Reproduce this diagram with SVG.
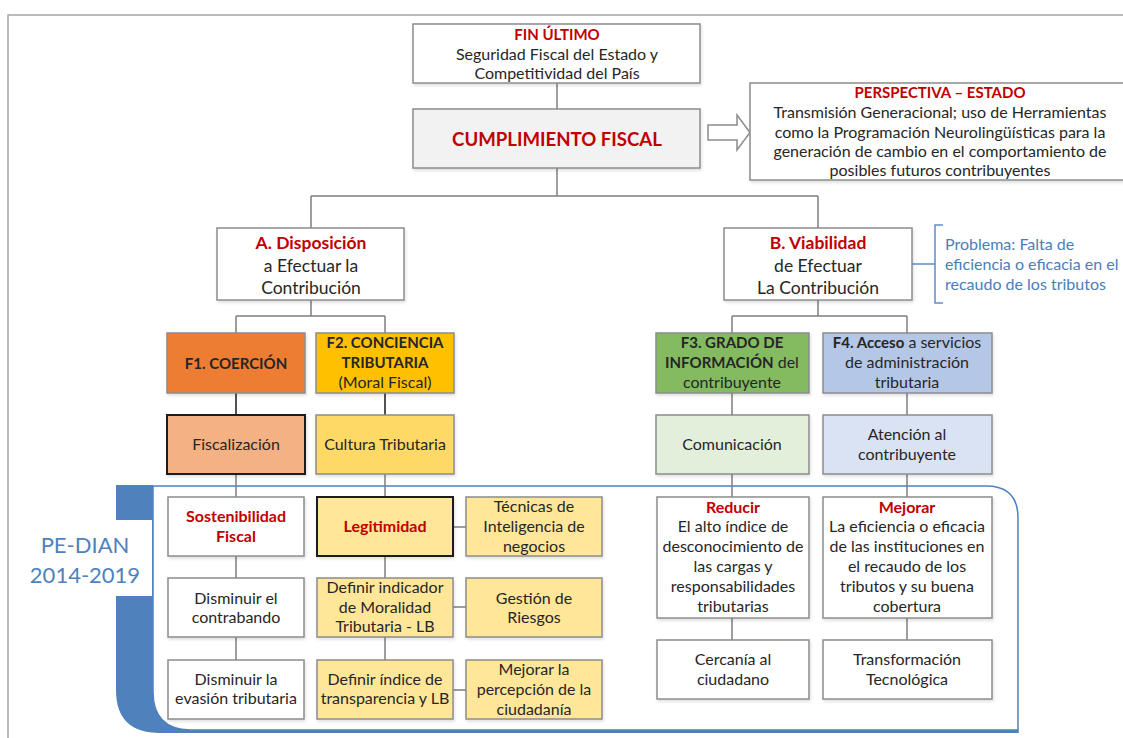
<svg xmlns="http://www.w3.org/2000/svg" width="1123" height="738" viewBox="0 0 1123 738">
  <defs>
    <style>
      text { font-family: Lato, "Open Sans", "Liberation Sans", sans-serif; font-size: 16px; fill: #262626; text-anchor: middle; }
      .red { fill: #c00000; font-weight: bold; }
      .b { font-weight: bold; font-size: 15px; }
      .blue { fill: #4a7ebb; text-anchor: start; }
      .ab { font-size: 17.5px; }
      .box { fill: #ffffff; stroke: #8c8c8c; stroke-width: 1.5; }
      .dark { stroke: #1a1a1a; stroke-width: 2; }
      .con { fill: none; stroke: #7f7f7f; stroke-width: 1.5; }
      .conk { fill: none; stroke: #1a1a1a; stroke-width: 1.5; }
    </style>
    <filter id="sh" x="-10%" y="-10%" width="120%" height="130%">
      <feDropShadow dx="1" dy="2" stdDeviation="1.5" flood-color="#000" flood-opacity="0.12"/>
    </filter>
  </defs>

  <rect width="1123" height="738" fill="#ffffff"/>
  <!-- outer frame -->
  <path d="M1130,15 H8 V745" fill="none" stroke="#a6a6a6" stroke-width="1.5"/>

  <!-- PE-DIAN panel -->
  <g id="pe-dian">
    <path d="M116,485 H153 V692 Q153,729 190,730 H1018 V733 H160 Q116,733 116,690 Z" fill="#4f81bd"/>
    <rect x="115" y="520" width="37" height="76" fill="#ffffff"/>
    <path d="M153,486 H986 Q1018,486 1018,518 V733 M153,486 V692 Q153,729 190,730 H1018" fill="none" stroke="#4f81bd" stroke-width="1.5"/>
    <text x="85" y="553" style="font-size:22px; fill:#4f81bd">PE-DIAN</text>
    <text x="85" y="583" style="font-size:22px; fill:#4f81bd">2014-2019</text>
  </g>

  <!-- connectors -->
  <g id="connectors">
    <path class="con" d="M557,83 V109 M557,168 V196 M311,196 H818 M311,196 V228 M818,196 V228"/>
    <path class="con" d="M311,300 V316 M236,316 H385 M236,316 V333 M385,316 V333"/>
    <path class="con" d="M818,300 V316 M732,316 H907 M732,316 V333 M907,316 V333"/>
    <path class="conk" d="M236,393 V415 M385,393 V415"/>
    <path class="con" d="M732,393 V415 M907,393 V415"/>
    <path class="con" d="M236,474 V497 M236,556 V578 M236,637 V660"/>
    <path class="con" d="M385,474 V497 M385,556 V578 M385,637 V660"/>
    <path class="con" d="M453,527 H466 M453,607 H466 M453,690 H466"/>
    <path class="con" d="M732,474 V497 M732,618 V640 M907,474 V497 M907,618 V640"/>
    <!-- bracket for the problem note -->
    <path d="M912,264 H935 M943,225 H935 V303 H943" fill="none" stroke="#5b8fc9" stroke-width="1.5"/>
    <!-- hollow arrow -->
    <path d="M708,125 H737 V115 L750,132.5 L737,150 V140 H708 Z" fill="#ffffff" stroke="#8c8c8c" stroke-width="1.5"/>
  </g>

  <g id="fin-ultimo">
    <rect class="box" x="413" y="24" width="287" height="59" filter="url(#sh)"/>
    <text x="557" y="40" class="red" style="font-size:15px">FIN ÚLTIMO</text>
    <text x="557" y="60">Seguridad Fiscal del Estado y</text>
    <text x="557" y="79">Competitividad del País</text>
  </g>

  <g id="cumplimiento">
    <rect class="box" x="413" y="109" width="287" height="59" style="fill:#f2f2f2" filter="url(#sh)"/>
    <text x="557" y="146" class="red" style="font-size:18.6px">CUMPLIMIENTO FISCAL</text>
  </g>

  <g id="perspectiva">
    <rect class="box" x="750" y="83" width="380" height="97" filter="url(#sh)"/>
    <text x="940" y="98" class="red" style="font-size:15px">PERSPECTIVA – ESTADO</text>
    <text x="940" y="118">Transmisión Generacional; uso de Herramientas</text>
    <text x="940" y="138">como la Programación  Neurolingüísticas para la</text>
    <text x="940" y="157">generación de cambio en el comportamiento de</text>
    <text x="940" y="176">posibles futuros contribuyentes</text>
  </g>

  <g id="disposicion">
    <rect class="box" x="217" y="228" width="187" height="72" filter="url(#sh)"/>
    <text x="311" y="249" class="red ab">A. Disposición</text>
    <text x="311" y="272" class="ab">a Efectuar la</text>
    <text x="311" y="294" class="ab">Contribución</text>
  </g>

  <g id="viabilidad">
    <rect class="box" x="724" y="228" width="188" height="72" filter="url(#sh)"/>
    <text x="818" y="249" class="red ab">B. Viabilidad</text>
    <text x="818" y="272" class="ab">de Efectuar</text>
    <text x="818" y="294" class="ab">La Contribución</text>
  </g>

  <g id="problema">
    <text x="945" y="250" class="blue">Problema: Falta de</text>
    <text x="945" y="270" class="blue">eficiencia o eficacia en el</text>
    <text x="945" y="290" class="blue">recaudo de los tributos</text>
  </g>

  <g id="f1">
    <rect class="box" x="167" y="333" width="138" height="60" style="fill:#ed7d31" filter="url(#sh)"/>
    <text x="236" y="369" class="b">F1. COERCIÓN</text>
  </g>
  <g id="f2">
    <rect class="box" x="316" y="333" width="138" height="60" style="fill:#ffc000" filter="url(#sh)"/>
    <text x="385" y="348" class="b">F2. CONCIENCIA</text>
    <text x="385" y="368" class="b">TRIBUTARIA</text>
    <text x="385" y="388">(Moral Fiscal)</text>
  </g>
  <g id="f3">
    <rect class="box" x="656" y="333" width="153" height="60" style="fill:#84bb61" filter="url(#sh)"/>
    <text x="732" y="348" class="b">F3. GRADO DE</text>
    <text x="732" y="368"><tspan class="b">INFORMACIÓN</tspan> del</text>
    <text x="732" y="388">contribuyente</text>
  </g>
  <g id="f4">
    <rect class="box" x="823" y="333" width="169" height="60" style="fill:#b4c7e7" filter="url(#sh)"/>
    <text x="907" y="348"><tspan class="b">F4. Acceso</tspan> a servicios</text>
    <text x="907" y="368">de administración</text>
    <text x="907" y="388">tributaria</text>
  </g>

  <g id="fiscalizacion">
    <rect class="box dark" x="167" y="415" width="138" height="59" style="fill:#f4b183" filter="url(#sh)"/>
    <text x="236" y="450">Fiscalización</text>
  </g>
  <g id="cultura">
    <rect class="box" x="316" y="415" width="138" height="59" style="fill:#ffd966" filter="url(#sh)"/>
    <text x="385" y="450">Cultura Tributaria</text>
  </g>
  <g id="comunicacion">
    <rect class="box" x="656" y="415" width="153" height="59" style="fill:#e2efda" filter="url(#sh)"/>
    <text x="732" y="450">Comunicación</text>
  </g>
  <g id="atencion">
    <rect class="box" x="823" y="415" width="169" height="59" style="fill:#dae3f3" filter="url(#sh)"/>
    <text x="907" y="440">Atención al</text>
    <text x="907" y="460">contribuyente</text>
  </g>

  <g id="sostenibilidad">
    <rect class="box" x="168" y="497" width="136" height="59" filter="url(#sh)"/>
    <text x="236" y="522" class="red">Sostenibilidad</text>
    <text x="236" y="542" class="red">Fiscal</text>
  </g>
  <g id="contrabando">
    <rect class="box" x="168" y="578" width="136" height="59" filter="url(#sh)"/>
    <text x="236" y="604">Disminuir el</text>
    <text x="236" y="623">contrabando</text>
  </g>
  <g id="evasion">
    <rect class="box" x="168" y="660" width="136" height="59" filter="url(#sh)"/>
    <text x="236" y="685">Disminuir la</text>
    <text x="236" y="704">evasión tributaria</text>
  </g>

  <g id="legitimidad">
    <rect class="box dark" x="317" y="497" width="136" height="59" style="fill:#ffe699" filter="url(#sh)"/>
    <text x="385" y="532" class="red">Legitimidad</text>
  </g>
  <g id="moralidad">
    <rect class="box" x="317" y="578" width="136" height="59" style="fill:#ffe699" filter="url(#sh)"/>
    <text x="385" y="593">Definir indicador</text>
    <text x="385" y="613">de Moralidad</text>
    <text x="385" y="632">Tributaria - LB</text>
  </g>
  <g id="transparencia">
    <rect class="box" x="317" y="660" width="136" height="59" style="fill:#ffe699" filter="url(#sh)"/>
    <text x="385" y="685">Definir índice de</text>
    <text x="385" y="704">transparencia y LB</text>
  </g>

  <g id="tecnicas">
    <rect class="box" x="466" y="497" width="136" height="59" style="fill:#ffe699" filter="url(#sh)"/>
    <text x="534" y="512">Técnicas de</text>
    <text x="534" y="532">Inteligencia de</text>
    <text x="534" y="552">negocios</text>
  </g>
  <g id="riesgos">
    <rect class="box" x="466" y="578" width="136" height="59" style="fill:#ffe699" filter="url(#sh)"/>
    <text x="534" y="604">Gestión de</text>
    <text x="534" y="623">Riesgos</text>
  </g>
  <g id="percepcion">
    <rect class="box" x="466" y="660" width="136" height="59" style="fill:#ffe699" filter="url(#sh)"/>
    <text x="534" y="675">Mejorar la</text>
    <text x="534" y="695">percepción de la</text>
    <text x="534" y="715">ciudadanía</text>
  </g>

  <g id="reducir">
    <rect class="box" x="657" y="497" width="152" height="121" filter="url(#sh)"/>
    <text x="733" y="513" class="red">Reducir</text>
    <text x="733" y="532">El alto índice de</text>
    <text x="733" y="552">desconocimiento de</text>
    <text x="733" y="572">las cargas y</text>
    <text x="733" y="592">responsabilidades</text>
    <text x="733" y="612">tributarias</text>
  </g>
  <g id="cercania">
    <rect class="box" x="657" y="640" width="152" height="59" filter="url(#sh)"/>
    <text x="733" y="665">Cercanía al</text>
    <text x="733" y="685">ciudadano</text>
  </g>

  <g id="mejorar">
    <rect class="box" x="823" y="497" width="169" height="121" filter="url(#sh)"/>
    <text x="907" y="513" class="red">Mejorar</text>
    <text x="907" y="532">La eficiencia o eficacia</text>
    <text x="907" y="552">de las instituciones en</text>
    <text x="907" y="572">el recaudo de los</text>
    <text x="907" y="592">tributos y su buena</text>
    <text x="907" y="612">cobertura</text>
  </g>
  <g id="transformacion">
    <rect class="box" x="823" y="640" width="169" height="59" filter="url(#sh)"/>
    <text x="907" y="665">Transformación</text>
    <text x="907" y="685">Tecnológica</text>
  </g>
</svg>
